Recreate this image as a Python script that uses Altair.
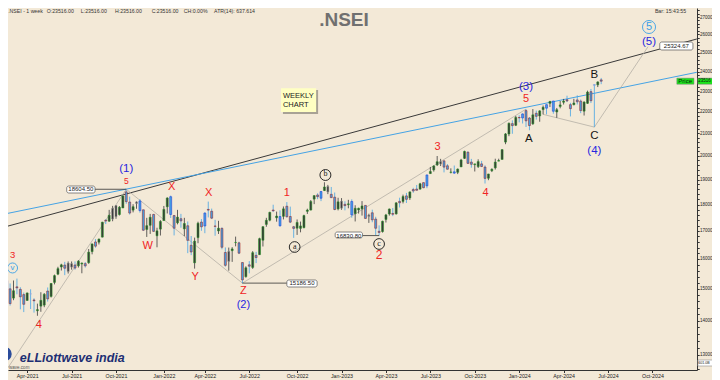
import altair as alt
import pandas as pd

BG = "#f3e9d7"

# ---------------- weekly candles (week ending Friday, first week 2021-02-05) ----------------
opens = [
    # 2021
    13758, 15064, 15270, 14999, 14702, 15065, 14983, 14814, 14628, 14837, 14644, 14306, 14449,
    14481, 14928, 14756, 15211, 15484, 15725, 15791, 15574, 15839, 15793, 15766, 15829, 15840,
    15874, 16258, 16600, 16592, 16775, 17400, 17363, 17443, 17962, 17615, 17867, 18500, 18098,
    17783, 18040, 18141, 17796, 17055, 17209, 17619, 16824, 17067,
    # 2022
    17387, 17913, 18308, 17575, 17301, 17456, 17076, 17192, 16481, 15868, 16757, 17329, 17182,
    17810, 17741, 17183, 16999, 17096, 16227, 15917, 16290, 16578, 16570, 15877, 15400, 15800,
    15710, 16127, 16151, 16662, 17243, 17401, 17787, 17491, 17188, 17546, 17934, 17540, 17156,
    17102, 17094, 17122, 17737, 17786, 18211, 18376, 18246, 18552, 18719, 18402, 18288, 17830,
    # 2023
    18131, 18008, 17995, 18119, 17649, 17790, 17833, 17966, 17541, 17681, 17443, 16989, 16977,
    17428, 17634, 17656, 17640, 18124, 18121, 18339, 18258, 18595, 18612, 18609, 18873, 18741,
    19246, 19400, 19612, 19749, 19784, 19573, 19299, 19320, 19299, 19525, 19890, 20156, 19730,
    19622, 19540, 19654, 19521, 19053, 19365, 19486, 19771, 19844, 20602, 20965, 21440, 21365,
    # 2024
    21727, 21705, 22054, 21704, 21433, 21926, 21800, 22103, 22169, 22403, 22517, 21987, 22254,
    22455, 22578, 22339, 22336, 22568, 22513, 22027, 22404, 22977, 23337, 23319, 23570,
]
highs = [
    15014, 15257, 15432, 15176, 15273, 15336, 15052, 14879, 14877, 14984, 14697, 14527, 14890,
    14863, 15044, 15189, 15469, 15733, 15835, 15901, 15915, 15914, 15915, 15962, 15881, 15893,
    16349, 16543, 16702, 16722, 17340, 17436, 17793, 17947, 17976, 17941, 18350, 18604, 18310,
    18012, 18123, 18210, 17806, 17489, 17639, 17640, 17118, 17400,
    17944, 18286, 18351, 17599, 17794, 17640, 17490, 17352, 16815, 16757, 17344, 17442, 17703,
    18114, 17842, 17414, 17377, 17132, 16404, 16400, 16415, 16793, 16610, 15886, 15749, 15927,
    16275, 16248, 16752, 17172, 17490, 17720, 17992, 17726, 17777, 17925, 18096, 17919, 17188,
    17428, 17348, 17607, 17838, 18176, 18362, 18443, 18534, 18888, 18781, 18697, 18473, 18265,
    18252, 18127, 18184, 18202, 17972, 17877, 18134, 17972, 17645, 17800, 17529, 17207, 17381,
    17638, 17842, 17863, 18089, 18267, 18389, 18458, 18508, 18662, 18777, 18864, 18887, 19201,
    19524, 19595, 19991, 19868, 19796, 19645, 19465, 19584, 19458, 19868, 20222, 20196, 19867,
    19657, 19849, 19781, 19593, 19233, 19464, 19875, 19875, 20291, 21006, 21493, 21593, 21801,
    21834, 21928, 22124, 21750, 22127, 22053, 22068, 22297, 22353, 22525, 22526, 22180, 22516,
    22619, 22775, 22427, 22625, 22794, 22588, 22502, 23026, 23110, 23338, 23490, 23667,
]
lows = [
    13661, 14977, 14898, 14467, 14636, 14824, 14350, 14264, 14617, 14359, 14248, 14151, 14273,
    14416, 14592, 14721, 15145, 15451, 15606, 15450, 15505, 15635, 15632, 15707, 15513, 15705,
    15834, 16162, 16395, 16510, 16765, 17255, 17338, 17361, 17452, 17576, 17864, 18030, 17613,
    17697, 17836, 17688, 17000, 16782, 16891, 16966, 16410, 16833,
    17383, 17655, 17485, 16837, 17244, 17119, 16810, 16203, 16134, 15671, 16555, 17006, 16917,
    17505, 17442, 16824, 16889, 16340, 15735, 15601, 15900, 16444, 16172, 15183, 15367, 15511,
    15661, 15858, 16142, 16438, 17154, 17359, 17710, 17345, 17166, 17429, 17497, 17292, 16748,
    16855, 16950, 17098, 17637, 17774, 18015, 18210, 18133, 18533, 18410, 18256, 17779, 17774,
    17796, 17774, 17854, 17493, 17353, 17652, 17575, 17455, 17299, 17324, 16851, 16828, 16940,
    17313, 17574, 17553, 17613, 17885, 18042, 18060, 18178, 18464, 18555, 18595, 18647, 18647,
    19235, 19327, 19563, 19563, 19296, 19412, 19253, 19229, 19224, 19525, 19865, 19657, 19492,
    19333, 19480, 19518, 18837, 18973, 19309, 19414, 19768, 19844, 20508, 20867, 20976, 21329,
    21500, 21448, 21285, 21137, 21386, 21629, 21530, 21875, 21875, 22224, 21906, 21711, 22163,
    22346, 22466, 21778, 22308, 22349, 21932, 21821, 22377, 22417, 21281, 23206, 23350,
]
closes = [
    14924, 15163, 14982, 14529, 14938, 15031, 14744, 14507, 14867, 14835, 14617, 14341, 14631,
    14823, 14677, 15175, 15435, 15670, 15799, 15683, 15860, 15722, 15689, 15924, 15856, 15763,
    16238, 16529, 16450, 16705, 17324, 17369, 17585, 17853, 17532, 17895, 18338, 18114, 17671,
    17916, 18102, 17765, 17026, 17196, 17511, 16985, 17003, 17354,
    17812, 18255, 17617, 17102, 17516, 17374, 17276, 16658, 16245, 16630, 17287, 17153, 17670,
    17784, 17476, 17172, 17102, 16411, 15782, 16266, 16352, 16584, 16202, 15293, 15699, 15752,
    16220, 16049, 16719, 17158, 17397, 17698, 17758, 17559, 17539, 17833, 17531, 17327, 17094,
    17315, 17186, 17576, 17787, 18117, 18350, 18308, 18513, 18696, 18497, 18269, 17807, 18105,
    17859, 17956, 18027, 17604, 17854, 17856, 17944, 17466, 17594, 17413, 17100, 16945, 17360,
    17599, 17828, 17624, 18065, 18069, 18315, 18203, 18499, 18534, 18563, 18826, 18666, 19189,
    19332, 19565, 19745, 19646, 19517, 19428, 19310, 19265, 19435, 19820, 20192, 19674, 19638,
    19654, 19751, 19543, 19047, 19230, 19425, 19732, 19795, 20268, 20969, 21457, 21349, 21731,
    21711, 21895, 21571, 21353, 21854, 21783, 22041, 22213, 22339, 22493, 22023, 22097, 22327,
    22514, 22519, 22147, 22420, 22476, 22055, 22466, 22957, 22531, 23290, 23465, 23501,
]

blue_weeks = ["2021-02-19", "2021-11-19", "2022-01-21", "2022-04-01", "2022-09-02", "2022-11-25",
              "2023-01-27", "2023-06-30", "2023-08-25", "2024-01-12", "2024-03-01", "2024-03-15"]
gray_weeks = ["2021-06-25", "2021-07-02", "2021-09-24", "2021-10-01", "2021-11-12", "2022-05-20",
              "2022-12-09", "2023-01-06", "2023-03-03", "2023-07-28"]
lavender_weeks = ["2021-04-09", "2024-06-07"]

kinds = ["up", "down", "blue", "gray", "lav"]
kind_colors = ["#1f9a1f", "#981313", "#1f2fd2", "#9c9c9c", "#a3a3dd"]

# ---------------- trend lines / wave paths ----------------
black_line_dates = ["2021-02-05", "2025-01-03"]
black_line_prices = [17098, 25749]
blue_line_dates = ["2021-02-05", "2025-01-03"]
blue_line_prices = [17597, 23959]
wave1_dates = ["2021-02-05", "2021-10-22", "2022-06-17", "2024-01-19"]
wave1_prices = [12316, 18604.5, 15186.5, 22124]
wave2_dates = ["2024-02-23", "2024-06-07", "2024-09-25"]
wave2_prices = [21875, 21281, 25324.67]

# ---------------- wave labels ----------------
RED, BLUE, BLK = "#f02424", "#2626e0", "#151515"
wl_dates = ["2021-03-03", "2021-04-26", "2021-10-22", "2021-10-22", "2021-12-05", "2022-01-23",
            "2022-03-12", "2022-04-09", "2022-06-19", "2022-06-19", "2022-09-16", "2023-03-24",
            "2023-07-22", "2023-10-28", "2024-01-19", "2024-01-19", "2024-01-25", "2024-06-07",
            "2024-06-07", "2024-06-07", "2024-09-27"]
wl_prices = [16138, 13871, 19437, 18940, 16457, 18695, 15388, 18454, 14930, 14500, 18454, 16138,
             20385, 18454, 23207, 22615, 20741, 23820, 20876, 20209, 25581]
wl_texts = ["3", "4", "(1)", "5", "W", "X", "Y", "X", "Z", "(2)", "1", "2",
            "3", "4", "(3)", "5", "A", "B", "C", "(4)", "(5)"]
wl_colors = [RED, RED, BLUE, RED, RED, RED, RED, RED, RED, BLUE, RED, RED,
             RED, RED, BLUE, RED, BLK, BLK, BLK, BLUE, BLUE]
wl_sizes = [9.5, 11, 11.5, 8.5, 11, 11, 11, 11, 11, 11, 11, 12,
            11, 11, 11.5, 11, 11.5, 11.5, 11.5, 11.5, 11.5]

LB = "#3a9fe6"
circ_dates = ["2021-03-03", "2022-10-02", "2022-12-04", "2023-03-24", "2024-09-27"]
circ_prices = [15692, 16420, 19187, 16527, 26425]
circ_texts = ["v", "a", "b", "c", "5"]
circ_colors = [LB, BLK, BLK, BLK, LB]
circ_sizes = [100, 115, 120, 115, 170]
circ_font_sizes = [8, 8, 8, 8, 11]

# value boxes
box_x1 = ["2021-06-22", "2022-09-16", "2022-12-24", "2024-10-19"]
box_x2 = ["2021-08-19", "2022-11-17", "2023-02-18", "2024-12-26"]
box_lo = [18454, 15059, 16744, 25142]
box_hi = [18735, 15289, 16961, 25581]
box_texts = ["18604.50", "15186.50", "16830.80", "25324.67"]
box_text_dates = ["2021-07-21", "2022-10-17", "2023-01-21", "2024-11-22"]
box_text_prices = [18604.5, 15186.5, 16830.8, 25360]
leader_x1 = ["2021-08-19", "2022-06-17", "2023-02-18"]
leader_x2 = ["2021-10-22", "2022-09-16", "2023-03-24"]
leader_prices = [18604.5, 15186.5, 16830.8]

# header texts
hdr_dates = ["2021-02-22", "2021-05-12", "2021-07-21", "2021-09-29", "2021-12-13", "2022-02-17",
             "2022-04-20", "2024-10-09"]
hdr_texts = [".NSEI - 1 week", "O:23516.00", "L:23516.00", "H:23516.00", "C:23516.00", "CH:0.00%",
             "ATR(14): 637.614", "Bar: 15:43:55"]
hdr_price = 27344

tick_dates = ["2021-04-02", "2021-07-02", "2021-10-01", "2022-01-07", "2022-04-01", "2022-07-01",
              "2022-10-07", "2023-01-06", "2023-04-07", "2023-07-07", "2023-10-06", "2024-01-05",
              "2024-04-05", "2024-07-05", "2024-10-04"]
price_ticks = list(range(12600, 27600, 200))


def ts(d):
    return d + "T00:00:00"


def dt(d, hours=0):
    y, m, dd = (int(v) for v in d.split("-"))
    return alt.DateTime(year=y, month=m, date=dd, hours=hours)


# ---------------- frames ----------------
week_dates = pd.date_range("2021-02-05", periods=len(closes), freq="7D").strftime("%Y-%m-%d").tolist()
kind = []
for d, o, c in zip(week_dates, opens, closes):
    if d in blue_weeks:
        kind.append("blue")
    elif d in gray_weeks:
        kind.append("gray")
    elif d in lavender_weeks:
        kind.append("lav")
    else:
        kind.append("up" if c >= o else "down")
cdf = pd.DataFrame({"date": [ts(d) for d in week_dates], "open": opens, "high": highs,
                    "low": lows, "close": closes, "kind": kind})

xscale = alt.Scale(domain=[dt("2021-02-21", 17), dt("2025-01-03", 7)], padding=0, nice=False)
yscale = alt.Scale(type="log", domain=[12585, 27533], nice=False, padding=0)
x_axis = alt.Axis(values=[dt(d) for d in tick_dates], format="%b-%Y", labelFontSize=5.3,
                  labelFont="Liberation Sans", labelColor="#222", tickSize=2.5, tickColor="#333",
                  domainColor="#333", labelPadding=0.5, grid=False, title=None, labelFlush=False,
                  labelOverlap=False)
y_axis = alt.Axis(orient="right", values=price_ticks,
                  labelExpr="datum.value % 1000 == 0 ? format(datum.value, 'd') : ''",
                  labelFontSize=4.5, labelFont="Liberation Sans", labelColor="#222", tickSize=2.2,
                  tickColor="#333", domainColor="#333", labelPadding=0.2, grid=False, title=None,
                  labelOverlap=False)


def X(f="date"):
    return alt.X(f + ":T", scale=xscale, axis=x_axis)


def Y(f="price"):
    return alt.Y(f + ":Q", scale=yscale, axis=y_axis)


kind_scale = alt.Scale(domain=kinds, range=kind_colors)

# trend lines
tdf = pd.DataFrame({
    "seg": ["black"] * 2 + ["blue"] * 2,
    "idx": [0, 1, 0, 1],
    "date": [ts(d) for d in black_line_dates + blue_line_dates],
    "price": black_line_prices + blue_line_prices,
})
trend = alt.Chart(tdf).mark_line(clip=True, strokeWidth=1).encode(
    x=X(), y=Y(), detail="seg:N", order="idx:Q",
    color=alt.Color("seg:N", scale=alt.Scale(domain=["black", "blue"], range=["#3a3a3a", "#45a3e5"]), legend=None))

wdf = pd.DataFrame({
    "seg": ["w1"] * len(wave1_dates) + ["w2"] * len(wave2_dates),
    "idx": list(range(len(wave1_dates))) + list(range(len(wave2_dates))),
    "date": [ts(d) for d in wave1_dates + wave2_dates],
    "price": wave1_prices + wave2_prices,
})
waves = alt.Chart(wdf).mark_line(clip=True, strokeWidth=0.7, color="#aca79f").encode(
    x=X(), y=Y(), detail="seg:N", order="idx:Q")

wicks = alt.Chart(cdf).mark_rule(strokeWidth=0.8).encode(
    x=X(), y=Y("low"), y2=alt.Y2("high"), color=alt.Color("kind:N", scale=kind_scale, legend=None))
bodies = alt.Chart(cdf).mark_bar(size=2.0, strokeWidth=0.5).encode(
    x=X(), y=Y("open"), y2=alt.Y2("close"),
    color=alt.Color("kind:N", scale=kind_scale, legend=None),
    stroke=alt.Stroke("kind:N", scale=kind_scale, legend=None))

# leaders and boxes
ldf = pd.DataFrame({"date": [ts(d) for d in leader_x1], "date2": [ts(d) for d in leader_x2], "price": leader_prices})
leaders = alt.Chart(ldf).mark_rule(strokeWidth=0.8, color="#333").encode(x=X(), x2=alt.X2("date2:T"), y=Y())
bdf = pd.DataFrame({"date": [ts(d) for d in box_x1], "date2": [ts(d) for d in box_x2],
                    "price": box_lo, "price2": box_hi})
boxes = alt.Chart(bdf).mark_rect(fill="white", stroke="#555", strokeWidth=0.7, cornerRadius=2).encode(
    x=X(), x2=alt.X2("date2:T"), y=Y(), y2=alt.Y2("price2:Q"))
btdf = pd.DataFrame({"date": [ts(d) for d in box_text_dates], "price": box_text_prices, "text": box_texts})
box_text = alt.Chart(btdf).mark_text(font="Liberation Sans", fontSize=6, color="#1a1a1a").encode(
    x=X(), y=Y(), text="text:N")

# wave labels
labdf = pd.DataFrame({"date": [ts(d) for d in wl_dates], "price": wl_prices, "text": wl_texts,
                      "color": wl_colors, "size": wl_sizes})
wave_labels = alt.Chart(labdf).mark_text(font="Liberation Sans").encode(
    x=X(), y=Y(), text="text:N", color=alt.Color("color:N", scale=None),
    size=alt.Size("size:Q", scale=None))

cdf2 = pd.DataFrame({"date": [ts(d) for d in circ_dates], "price": circ_prices, "text": circ_texts,
                     "color": circ_colors, "size": circ_sizes, "fs": circ_font_sizes})
circles = alt.Chart(cdf2).mark_point(shape="circle", filled=False, strokeWidth=0.9, opacity=1).encode(
    x=X(), y=Y(), color=alt.Color("color:N", scale=None), size=alt.Size("size:Q", scale=None))
circ_serif = alt.Chart(cdf2[cdf2.text.isin(["a", "b", "c"])]).mark_text(font="Liberation Serif", dy=-0.5).encode(
    x=X(), y=Y(), text="text:N", color=alt.Color("color:N", scale=None), size=alt.Size("fs:Q", scale=None))
circ_sans = alt.Chart(cdf2[cdf2.text.isin(["v", "5"])]).mark_text(font="Liberation Sans").encode(
    x=X(), y=Y(), text="text:N", color=alt.Color("color:N", scale=None), size=alt.Size("fs:Q", scale=None))

# weekly chart note
note_rects = pd.DataFrame({"date": [ts("2022-09-08"), ts("2022-09-04")],
                           "date2": [ts("2022-11-19"), ts("2022-11-15")],
                           "price": [21892, 21986], "price2": [23053, 23152],
                           "fill": ["#a8a295", "#ffffc2"]})
note_box = alt.Chart(note_rects).mark_rect().encode(
    x=X(), x2=alt.X2("date2:T"), y=Y(), y2=alt.Y2("price2:Q"), color=alt.Color("fill:N", scale=None))
note_text = alt.Chart(pd.DataFrame({"date": [ts("2022-09-08")] * 2, "price": [22780, 22320],
                                    "text": ["WEEKLY", "CHART"]})).mark_text(
    font="Liberation Sans", fontSize=7.5, align="left", color="#222").encode(x=X(), y=Y(), text="text:N")

# header
hdf = pd.DataFrame({"date": [ts(d) for d in hdr_dates], "price": [hdr_price] * len(hdr_dates), "text": hdr_texts})
header = alt.Chart(hdf).mark_text(font="Liberation Sans", fontSize=5.2, align="left", color="#333").encode(
    x=X(), y=Y(), text="text:N")
title = alt.Chart(pd.DataFrame({"date": [ts("2023-01-11")], "price": [26482], "text": [".NSEI"]})).mark_text(
    font="Liberation Sans", fontSize=19, fontWeight="bold", baseline="alphabetic", color="#707070").encode(
    x=X(), y=Y(), text="text:N")

# price tags
tag_df = pd.DataFrame({"date": [ts("2024-11-23"), ts("2025-01-05"), ts("2025-01-05")],
                       "date2": [ts("2024-12-28"), ts("2025-02-24"), ts("2025-02-24")],
                       "price": [23349, 23349, 12694], "price2": [23656, 23656, 12860],
                       "fill": ["#19e619", "#19e619", "#ffffff"]})
tags = alt.Chart(tag_df).mark_rect(stroke="#777", strokeWidth=0.5).encode(
    x=X(), x2=alt.X2("date2:T"), y=Y(), y2=alt.Y2("price2:Q"), color=alt.Color("fill:N", scale=None))
tag_c = alt.Chart(pd.DataFrame({"date": [ts("2024-12-10")], "price": [23500], "text": ["Price"]})).mark_text(
    font="Liberation Sans", fontSize=6, color="#111").encode(x=X(), y=Y(), text="text:N")
tag_l = alt.Chart(pd.DataFrame({"date": [ts("2025-01-06")] * 2, "price": [23500, 12777],
                                "text": ["23516", "601.0B"], "fs": [4.5, 3.6]})).mark_text(
    font="Liberation Sans", align="left", color="#111").encode(
    x=X(), y=Y(), text="text:N", size=alt.Size("fs:Q", scale=None))

# logo
globe = alt.Chart(pd.DataFrame({"date": [ts("2021-02-15")], "price": [13028]})).mark_point(
    shape="circle", filled=True, size=196, color="#2b4c9b", opacity=1).encode(x=X(), y=Y())
logo = alt.Chart(pd.DataFrame({"date": [ts("2021-03-18")], "price": [12805], "text": ["eLLiottwave india"]})).mark_text(
    font="Liberation Sans", fontSize=12.5, fontWeight="bold", fontStyle="italic", align="left",
    baseline="alphabetic", color="#1d2f73").encode(x=X(), y=Y(), text="text:N")
logo_small = alt.Chart(pd.DataFrame({"date": [ts("2021-02-24")], "price": [12653], "text": ["wave.com"]})).mark_text(
    font="Liberation Sans", fontSize=4.5, align="left", color="#555").encode(x=X(), y=Y(), text="text:N")

chart = alt.layer(
    trend, waves, wicks, bodies, leaders, boxes, box_text, wave_labels, circles, circ_serif, circ_sans,
    note_box, note_text, header, title, tags, tag_c, tag_l, globe, logo, logo_small,
).properties(
    width=689, height=362,
    padding={"left": 0, "top": 0, "right": 15, "bottom": 10},
    autosize=alt.AutoSizeParams(type="none"),
    background=BG,
).configure_view(stroke=None, fill=BG)

chart.save("out.html", embed_options={"renderer": "svg", "actions": False})
